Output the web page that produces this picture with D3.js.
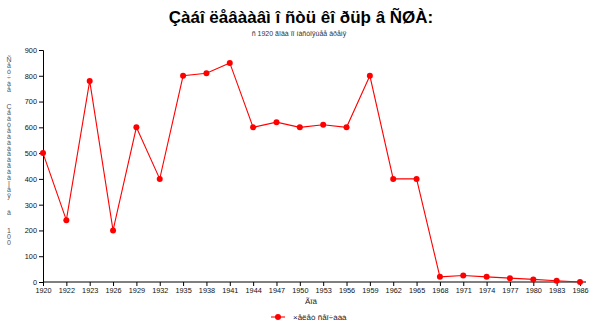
<!DOCTYPE html>
<html>
<head>
<meta charset="utf-8">
<script src="https://cdn.jsdelivr.net/npm/d3@7"></script>
<style>
  body { margin: 0; background: #fff; }
  text { font-family: "Liberation Sans", Arial, sans-serif; }
</style>
</head>
<body>
<div id="container"></div>
<script>
// chart data
const years = ["1920","1922","1923","1926","1929","1932","1935","1938","1941","1944","1947","1950",
               "1953","1956","1959","1962","1965","1968","1971","1974","1977","1980","1983","1986"]
const catches = [500, 240, 780, 200, 600, 400, 800, 810, 850, 600, 620, 600,
                 610, 600, 800, 400, 400, 20, 25, 20, 15, 10, 5, 0]
const yTicks = [0, 100, 200, 300, 400, 500, 600, 700, 800, 900]

const title = "Çàáî ëåâààâì î ñòü êî ðüþ â ÑØÀ:"
const subtitle = "ñ 1920 ãîäà ïî íàñòîÿùåå âðåìÿ"
const xTitle = "Ãîä"
const yTitle = ["Ñ","å","ó","÷","à","å","","","Ç","à","à","ò","å","à","à","à","à","à","ã","à","à","ï","å","ÿ","","","â","","","1","0","0"]
const seriesName = "×åëåò ñåî÷ààà"

const width = 600, height = 328
const margin = { top: 50, right: 20, bottom: 46, left: 43 }

const svg = d3.select("#container").append("svg")
  .attr("width", width)
  .attr("height", height)

const x = d3.scalePoint().domain(years).range([margin.left, 580])
const y = d3.scaleLinear().domain([0, 900]).range([height - margin.bottom, margin.top])

// title + subtitle
svg.append("text")
  .attr("x", 301).attr("y", 23)
  .attr("text-anchor", "middle")
  .style("font-size", "17px").style("font-weight", "bold")
  .text(title)
svg.append("text")
  .attr("x", 299).attr("y", 36)
  .attr("text-anchor", "middle")
  .style("font-size", "7px").style("fill", "#333")
  .text(subtitle)

// axes
const yAxis = svg.append("g")
  .attr("transform", `translate(${margin.left},0)`)
  .call(d3.axisLeft(y).tickValues(yTicks).tickSize(4).tickPadding(2))
const xAxis = svg.append("g")
  .attr("transform", `translate(0,${height - margin.bottom})`)
  .call(d3.axisBottom(x).tickSize(4).tickPadding(2))

svg.selectAll(".domain").attr("stroke", "#000")
svg.selectAll(".tick line").attr("stroke", "#000")
svg.selectAll(".tick text").style("font-size", "7.3px").style("fill", "#111")
  .style("font-family", "'Liberation Sans', Arial, sans-serif")
// extend x axis line a little past the last point
xAxis.select(".domain").attr("d", `M${margin.left},0H586`)

// axis titles
svg.append("text")
  .attr("x", 311).attr("y", 304)
  .attr("text-anchor", "middle")
  .style("font-size", "8px").style("fill", "#222")
  .text(xTitle)

svg.append("g").selectAll("text")
  .data(yTitle)
  .enter()
  .append("text")
    .attr("x", 9)
    .attr("y", (d, i) => 62 + i * 5.9)
    .attr("text-anchor", "middle")
    .style("font-size", "7px").style("fill", "#555")
    .text(d => d)

// the series
const line = d3.line()
  .x((d, i) => x(years[i]))
  .y(d => y(d))

svg.append("path")
  .datum(catches)
  .attr("fill", "none")
  .attr("stroke", "#ff0000")
  .attr("stroke-width", 1.1)
  .attr("d", line)

svg.selectAll("circle.pt")
  .data(catches)
  .enter()
  .append("circle")
    .attr("class", "pt")
    .attr("cx", (d, i) => x(years[i]))
    .attr("cy", d => y(d))
    .attr("r", 3)
    .style("fill", "#ff0000")

// legend
const legend = svg.append("g").attr("transform", "translate(271,317)")
legend.append("line")
  .attr("x1", 0).attr("x2", 14).attr("y1", 0).attr("y2", 0)
  .attr("stroke", "#ff0000").attr("stroke-width", 1.1)
legend.append("circle")
  .attr("cx", 7).attr("cy", 0).attr("r", 3)
  .style("fill", "#ff0000")
legend.append("text")
  .attr("x", 22).attr("y", 3)
  .style("font-size", "8px").style("fill", "#222")
  .text(seriesName)
</script>
</body>
</html>
